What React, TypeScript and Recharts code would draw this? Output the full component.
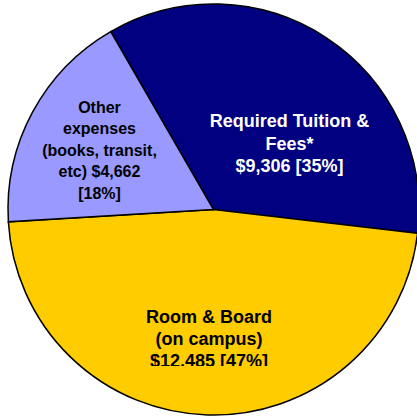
import { PieChart, Pie, Cell } from "recharts";

const categories = ["Required Tuition & Fees*", "Room & Board (on campus)", "Other expenses (books, transit, etc)"];
const amounts = [9306, 12485, 4662];
const colors = ["#000080", "#FFCC00", "#9999FF"];

// how each category's label is wrapped in the picture
const nameLines = [
  ["Required Tuition &", "Fees*"],
  ["Room & Board", "(on campus)"],
  ["Other", "expenses", "(books, transit,", "etc)"],
];
const valueOnNameLine = [false, false, true];

// label block placement relative to the pie centre (first baseline)
const labelOffsets = [
  { dx: 76, dy: -82.5, size: 18, lead: 22.5, color: "#ffffff" },
  { dx: -4.5, dy: 113.5, size: 18, lead: 22, color: "#000000" },
  { dx: -114, dy: -96.5, size: 16, lead: 21.4, color: "#000000" },
];

const total = amounts.reduce((a, b) => a + b, 0);
const data = categories.map((name, i) => ({ name, value: amounts[i] }));

const money = (v: number) => "$" + v.toLocaleString("en-US");

function labelLines(i: number) {
  const pct = Math.round((amounts[i] / total) * 100);
  const lines = [...nameLines[i]];
  if (valueOnNameLine[i]) {
    lines[lines.length - 1] = `${lines[lines.length - 1]} ${money(amounts[i])}`;
    lines.push(`[${pct}%]`);
  } else {
    lines.push(`${money(amounts[i])} [${pct}%]`);
  }
  return lines;
}

function renderLabel(props: any) {
  const { cx, cy, index } = props;
  const o = labelOffsets[index];
  const lines = labelLines(index);
  return (
    <g key={`lbl-${index}`} clipPath={index === 1 ? "url(#roomClip)" : undefined}>
      {index === 1 && (
        <defs>
          <clipPath id="roomClip">
            <rect x={0} y={0} width={417} height={366} />
          </clipPath>
        </defs>
      )}
      <text
        x={cx + o.dx}
        y={cy + o.dy}
        textAnchor="middle"
        fill={o.color}
        fontSize={o.size}
        fontWeight="bold"
        fontFamily="'Liberation Sans', Arial, sans-serif"
      >
        {lines.map((l, j) => (
          <tspan key={j} x={cx + o.dx} dy={j === 0 ? 0 : o.lead}>
            {l}
          </tspan>
        ))}
      </text>
    </g>
  );
}

export default function App() {
  return (
    <div style={{ position: "fixed", left: 0, top: 0, width: 417, height: 417, background: "#fff", overflow: "hidden" }}>
      <PieChart width={417} height={417} margin={{ top: 0, right: 0, bottom: 0, left: 0 }}>
        <Pie
          data={data}
          dataKey="value"
          nameKey="name"
          cx={213.5}
          cy={209.5}
          outerRadius={205.5}
          startAngle={120}
          endAngle={-240}
          stroke="#000"
          strokeWidth={1.5}
          label={renderLabel}
          labelLine={false}
          isAnimationActive={false}
        >
          {data.map((d, i) => (
            <Cell key={d.name} fill={colors[i]} />
          ))}
        </Pie>
      </PieChart>
    </div>
  );
}
